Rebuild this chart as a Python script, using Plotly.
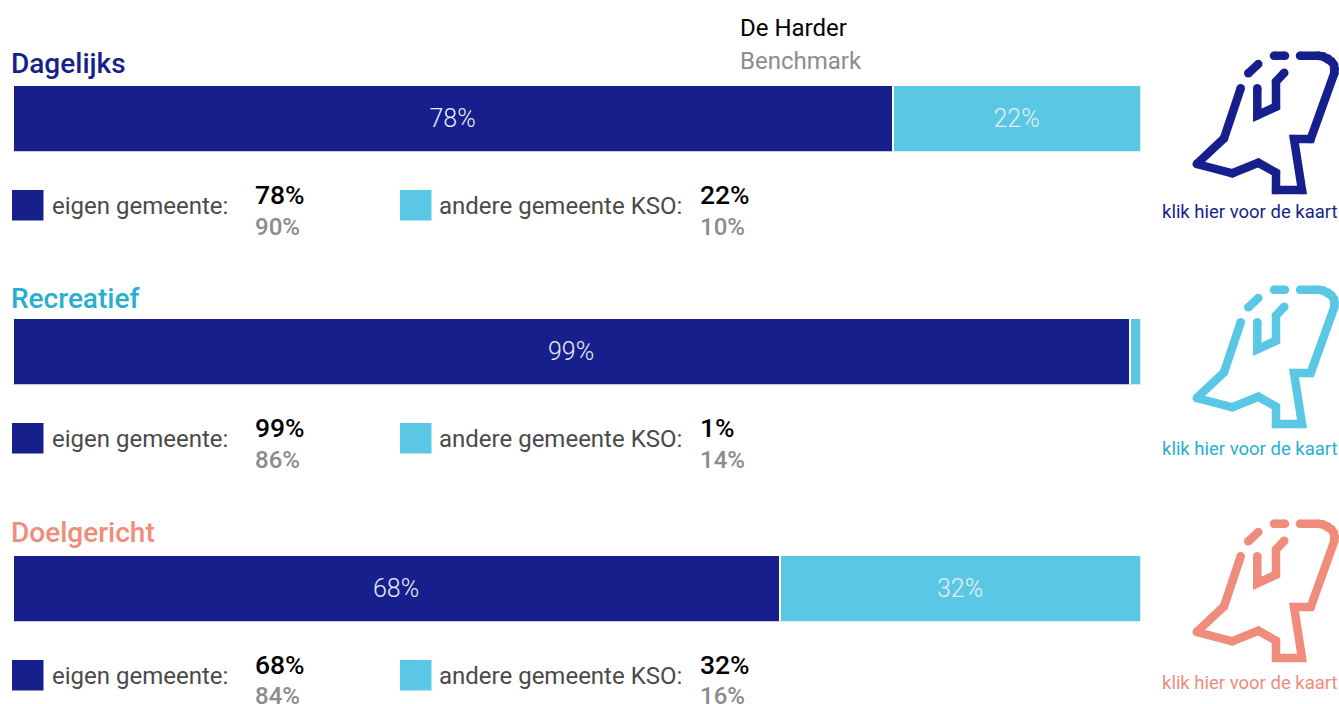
import plotly.graph_objects as go

WIDTH, HEIGHT = 1339, 704

categories = ["Dagelijks", "Recreatief", "Doelgericht"]
eigen = [78, 99, 68]
andere = [22, 1, 32]
bench_eigen = [90, 86, 84]
bench_andere = [10, 14, 16]
title_colors = ["#161F8C", "#28AECF", "#F08C7C"]
icon_colors = ["#161F8C", "#5AC8E4", "#F08C7C"]
link_colors = ["#161F8C", "#28AECF", "#F08C7C"]
DARK, LIGHT = "#161F8C", "#5AC8E4"
legend_labels = ["eigen gemeente:", "andere gemeente KSO:"]
header_labels = ["De Harder", "Benchmark"]
link_label = "klik hier voor de kaart"

def px(x): return x / WIDTH
def py(y): return 1 - y / HEIGHT

bar_tops = [85, 318, 555]
bar_h = 66.5
title_y = [63.5, 298, 532]
legend_y = [206, 439, 676]
val_y = [194.5, 427.5, 664.5]
bench_y = [227, 460, 696]
square_top = [190, 423, 660]
link_y = [212, 449, 683]
icon_off = [0, 234, 468]

fig = go.Figure()
for i, cat in enumerate(categories):
    sfx = "" if i == 0 else str(i + 1)
    for vals, col in ((eigen, DARK), (andere, LIGHT)):
        v = vals[i]
        fig.add_trace(go.Bar(
            x=[v], y=[cat], orientation="h", xaxis="x", yaxis="y" + sfx,
            marker=dict(color=col, line=dict(color="white", width=2)),
            text=[f"{v}%" if v > 5 else ""], textposition="inside", insidetextanchor="middle",
            textangle=0, constraintext="none",
            textfont=dict(family="Roboto", size=25, color="#E8ECF5", weight=300),
            hoverinfo="skip", showlegend=False, width=1,
        ))

# Icon outline in pixel space, drawn on a hidden full-page axis
outline_x = [1240.7, 1224, 1196.7, 1232.3, 1258.3, 1276, 1276, 1302, 1294, 1310.7, 1334.3, 1334.8, 1334, 1331.5, 1328, 1323.3, 1318.3, 1300]
outline_y = [88.3, 138.3, 164, 173.3, 162.7, 172.7, 190, 190, 139, 139, 73.3, 69, 65, 61.5, 58.5, 56.5, 55.7, 55.7]
inner_x = [1257.3, 1257.3, 1276, 1276, 1284.3]
inner_y = [88.3, 115.3, 106.7, 81.7, 72.7]
dash1_x = [1248.3, 1258.3]
dash1_y = [73.3, 64]
dash2_x = [1274, 1285]
dash2_y = [55.7, 55.7]
for i in range(3):
    for xs, ys in ((outline_x, outline_y), (inner_x, inner_y), (dash1_x, dash1_y), (dash2_x, dash2_y)):
        fig.add_trace(go.Scatter(
            x=xs, y=[v + icon_off[i] for v in ys], xaxis="x2", yaxis="y4", mode="lines+markers",
            line=dict(color=icon_colors[i], width=8.5), marker=dict(color=icon_colors[i], size=8.5),
            hoverinfo="skip", showlegend=False, cliponaxis=False,
        ))

annotations = []
def txt(x, y, s, size, color, weight=400, anchor="left"):
    annotations.append(dict(x=px(x - 2 if anchor == "left" else x), y=py(y), xref="paper", yref="paper", text=s,
                            showarrow=False, xanchor=anchor, yanchor="middle", align=anchor,
                            font=dict(family="Roboto", size=size, color=color, weight=weight)))

txt(740, 28, header_labels[0], 24, "#000000")
txt(740, 61, header_labels[1], 24, "#8C8C8C")

shapes = []
for i, cat in enumerate(categories):
    txt(11, title_y[i], cat, 28, title_colors[i], 500)
    top = square_top[i]
    for x0, label, lx, vx, vals, bench in (
        (12, legend_labels[0], 52, 255, eigen, bench_eigen),
        (400, legend_labels[1], 439, 700, andere, bench_andere),
    ):
        shapes.append(dict(type="rect", xref="paper", yref="paper", x0=px(x0), x1=px(x0 + 31.5),
                           y0=py(top), y1=py(top + 30.5), fillcolor=DARK if x0 == 12 else LIGHT, line_width=0))
        txt(lx, legend_y[i], label, 24, "#4A4A4A")
        txt(vx, val_y[i], f"{vals[i]}%", 26.5, "#000000", 500)
        txt(vx, bench_y[i], f"{bench[i]}%", 24, "#8C8C8C", 500)
    txt(1250, link_y[i], link_label, 18.5, link_colors[i], 400, "center")

layout = dict(
    width=WIDTH, height=HEIGHT, autosize=False, barmode="stack", bargap=0,
    margin=dict(l=0, r=0, t=0, b=0), paper_bgcolor="white", plot_bgcolor="rgba(0,0,0,0)",
    xaxis=dict(domain=[px(12.5), px(1140.5)], range=[0, 100], visible=False, fixedrange=True),
    xaxis2=dict(domain=[0, 1], range=[0, WIDTH], visible=False, fixedrange=True, anchor="y4"),
    yaxis4=dict(domain=[0, 1], range=[HEIGHT, 0], visible=False, fixedrange=True, anchor="x2"),
    shapes=shapes, annotations=annotations,
)
for i in range(3):
    name = "yaxis" + ("" if i == 0 else str(i + 1))
    layout[name] = dict(domain=[py(bar_tops[i] + bar_h), py(bar_tops[i])], visible=False,
                        fixedrange=True, anchor="x", type="category")
fig.update_layout(**layout)
fig.write_html("out.html", post_script="document.body.style.margin='0';", config={"displayModeBar": False})
